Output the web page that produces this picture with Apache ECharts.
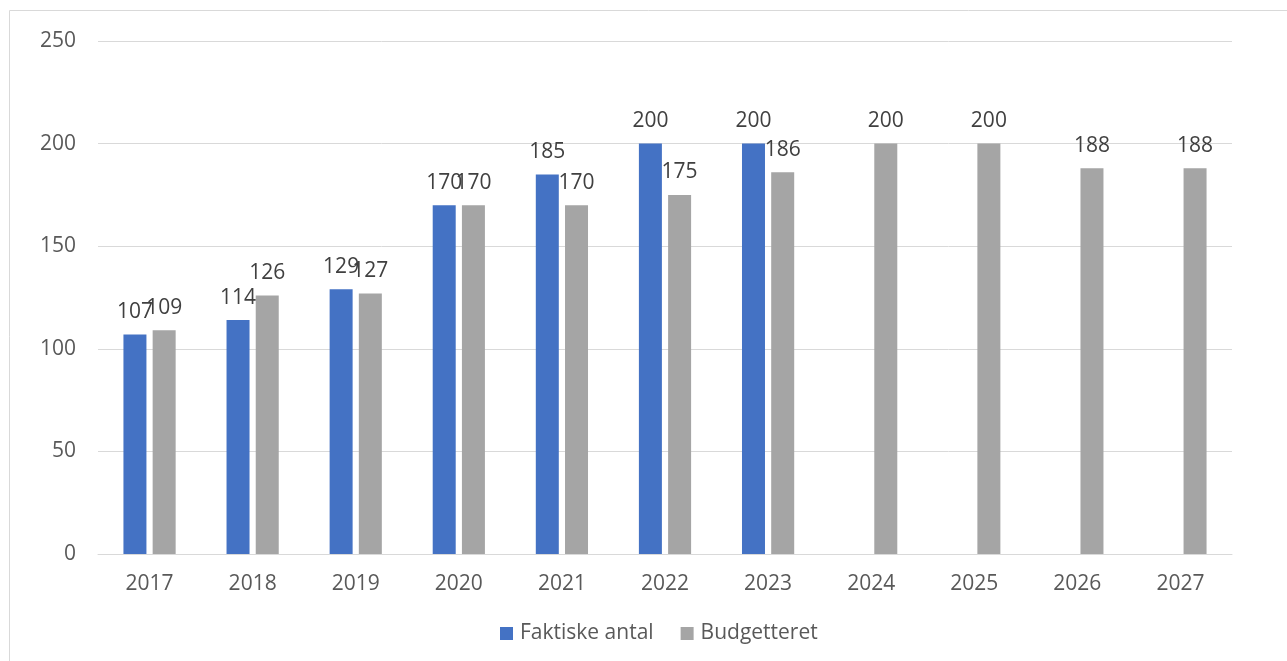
<!DOCTYPE html>
<html>
<head>
<meta charset="utf-8">
<script src="https://cdn.jsdelivr.net/npm/echarts@6/dist/echarts.min.js"></script>
<style>
  html, body { margin: 0; padding: 0; background: #fff; overflow: hidden; }
  #chart { width: 1287px; height: 661px; }
</style>
</head>
<body>
<div id="chart"></div>
<script>
const years = ['2017', '2018', '2019', '2020', '2021', '2022', '2023', '2024', '2025', '2026', '2027'];
const faktiske = [107, 114, 129, 170, 185, 200, 200, null, null, null, null];
const budget = [109, 126, 127, 170, 170, 175, 186, 200, 200, 188, 188];
const yTicks = { min: 0, max: 250, interval: 50 };

const font = '"Open Sans", "Noto Sans", sans-serif';

const labelStyle = {
  show: true,
  position: 'top',
  distance: 12,
  color: '#404040',
  fontSize: 21,
  fontFamily: font
};

const chart = echarts.init(document.getElementById('chart'));
chart.setOption({
  animation: false,
  textStyle: { fontFamily: font },
  graphic: [{
    type: 'rect',
    shape: { x: 9.5, y: 10.5, width: 1400, height: 800 },
    style: { fill: 'none', stroke: '#d9d9d9', lineWidth: 1 },
    silent: true
  }],
  grid: { left: 98, right: 55, top: 41, bottom: 107 },
  legend: {
    left: 495,
    top: 618,
    itemWidth: 13,
    itemHeight: 13,
    itemGap: 27,
    icon: 'rect',
    textStyle: { color: '#595959', fontSize: 21, fontFamily: font, padding: [0, 0, 0, 2] },
    data: ['Faktiske antal', 'Budgetteret']
  },
  xAxis: {
    type: 'category',
    data: years,
    axisLine: { lineStyle: { color: '#d9d9d9', width: 1 } },
    axisTick: { show: false },
    axisLabel: { color: '#595959', fontSize: 21, margin: 20, fontFamily: font }
  },
  yAxis: {
    type: 'value',
    min: yTicks.min,
    max: yTicks.max,
    interval: yTicks.interval,
    axisLine: { show: false },
    axisTick: { show: false },
    splitLine: { lineStyle: { color: '#d9d9d9', width: 1 } },
    axisLabel: { color: '#595959', fontSize: 21, margin: 22, fontFamily: font }
  },
  series: [
    {
      name: 'Faktiske antal',
      type: 'bar',
      data: faktiske,
      barWidth: 23,
      barGap: '27%',
      itemStyle: { color: '#4472c4' },
      label: labelStyle
    },
    {
      name: 'Budgetteret',
      type: 'bar',
      data: budget,
      barWidth: 23,
      barGap: '27%',
      itemStyle: { color: '#a5a5a5' },
      label: labelStyle
    }
  ]
});
</script>
</body>
</html>
